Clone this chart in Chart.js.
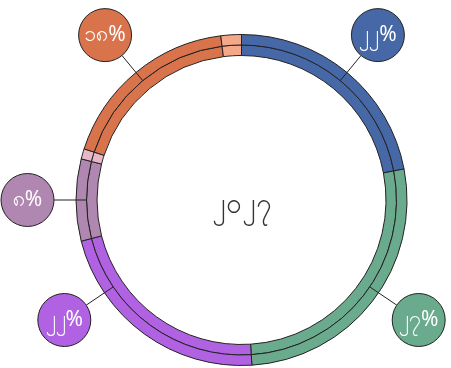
<!DOCTYPE html>
<html>
<head>
<meta charset="utf-8">
<script src="https://cdn.jsdelivr.net/npm/chart.js@4/dist/chart.umd.min.js"></script>
<style>
  body { margin: 0; background: #fff; }
</style>
</head>
<body>
<canvas id="myChart" width="451" height="368"></canvas>
<script>
// data
const categories = ["ပထမ", "ဒုတိယ", "တတိယ", "စတုတ္ထ", "ပဉ္စမ", "ဆဋ္ဌမ", "သတ္တမ"];
const values = [22, 27, 22, 8, 1, 18, 2];
const valueLabels = ["၂၂%", "၂၇%", "၂၂%", "၈%", "", "၁၈%", ""];
const centerLabel = "၂၀၂၇";

const colors = ["#4768a6", "#6aab8e", "#b162e2", "#b087b0", "#e9b6c6", "#d9734b", "#f4a88a"];

// labels in circles + leader lines
const bubbleLabels = {
  id: "bubbleLabels",
  afterDraw(chart) {
    const { ctx } = chart;
    const meta = chart.getDatasetMeta(0);
    const R = 26.5;
    const dist = 214;
    const maxY = 320;
    ctx.save();
    meta.data.forEach((arc, i) => {
      if (!valueLabels[i]) return;
      const cx = arc.x, cy = arc.y;
      const midR = arc.innerRadius;
      let a = (arc.startAngle + arc.endAngle) / 2;
      let y = cy + dist * Math.sin(a);
      if (y > maxY) {
        const s = Math.asin((maxY - cy) / dist);
        a = Math.cos(a) > 0 ? s : Math.PI - s;
      }
      const lx = cx + dist * Math.cos(a);
      const ly = cy + dist * Math.sin(a);
      //leader line
      ctx.beginPath();
      ctx.strokeStyle = "#222";
      ctx.lineWidth = 1;
      ctx.moveTo(cx + midR * Math.cos(a), cy + midR * Math.sin(a));
      ctx.lineTo(cx + (dist - R) * Math.cos(a), cy + (dist - R) * Math.sin(a));
      ctx.stroke();
      //circle
      ctx.beginPath();
      ctx.arc(lx, ly, R, 0, Math.PI * 2);
      ctx.fillStyle = colors[i];
      ctx.fill();
      ctx.strokeStyle = "#222";
      ctx.stroke();
      //text
      ctx.font = "21px 'Noto Sans', sans-serif";
      ctx.fillStyle = "#fff";
      ctx.textAlign = "center";
      ctx.textBaseline = "middle";
      ctx.fillText(valueLabels[i], lx, ly);
    });
    // center text
    const a0 = meta.data[0];
    ctx.font = "28px 'Noto Sans', sans-serif";
    ctx.fillStyle = "#333";
    ctx.textAlign = "center";
    ctx.textBaseline = "middle";
    ctx.fillText(centerLabel, a0.x, a0.y + 5);
    ctx.restore();
  },
};

const data = {
  labels: categories,
  datasets: [
    { data: values, backgroundColor: colors, borderColor: "#222", borderWidth: 1 },
    { data: values, backgroundColor: colors, borderColor: "#222", borderWidth: 1 },
  ],
};

const config = {
  type: "doughnut",
  data,
  options: {
    responsive: false,
    animation: false,
    cutout: "87.3%",
    layout: {
      padding: { top: 34, bottom: 2, left: 32, right: 0 },
    },
    plugins: {
      legend: { display: false },
      tooltip: { enabled: false },
    },
  },
  plugins: [bubbleLabels],
};

new Chart(document.getElementById("myChart"), config);
</script>
</body>
</html>
